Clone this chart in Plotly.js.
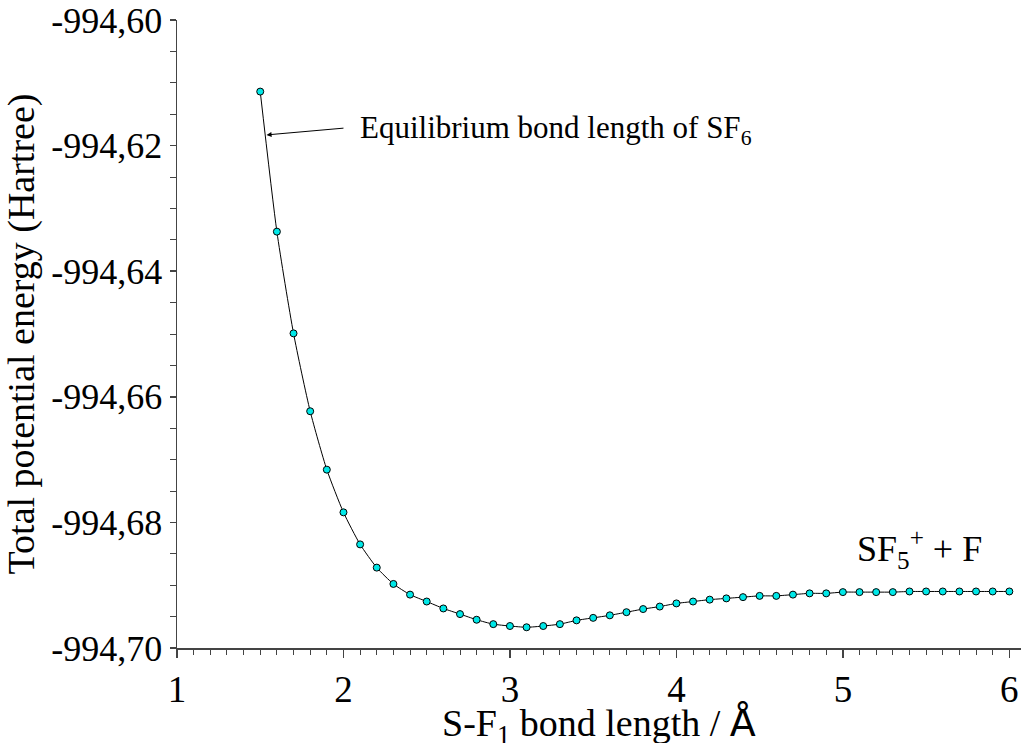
<!DOCTYPE html>
<html><head><meta charset="utf-8">
<script src="https://cdn.plot.ly/plotly-3.0.1.min.js"></script>
<style>html,body{margin:0;padding:0;background:#fff}#chart{width:1021px;height:743px}</style>
</head><body><div id="chart"></div>
<script>
const bondLength = [1.5,1.6,1.7,1.8,1.9,2.0,2.1,2.2,2.3,2.4,2.5,2.6,2.7,2.8,2.9,3.0,3.1,3.2,3.3,3.4,3.5,3.6,3.7,3.8,3.9,4.0,4.1,4.2,4.3,4.4,4.5,4.6,4.7,4.8,4.9,5.0,5.1,5.2,5.3,5.4,5.5,5.6,5.7,5.8,5.9,6.0];
const energy = [-994.6114,-994.6337,-994.6499,-994.6623,-994.6716,-994.6784,-994.6835,-994.6872,-994.6898,-994.6915,-994.6926,-994.6937,-994.6946,-994.6955,-994.6962,-994.6965,-994.6967,-994.6965,-994.6962,-994.6956,-994.6952,-994.6948,-994.6943,-994.6938,-994.6934,-994.6929,-994.6926,-994.6923,-994.6921,-994.6919,-994.6917,-994.6917,-994.6915,-994.6913,-994.6913,-994.6911,-994.6911,-994.6911,-994.6911,-994.6910,-994.6910,-994.6910,-994.6910,-994.6910,-994.6910,-994.6910];
const yTickVals = [-994.70,-994.68,-994.66,-994.64,-994.62,-994.60];
const yTickText = ['-994,70','-994,68','-994,66','-994,64','-994,62','-994,60'];
const xTickVals = [1,2,3,4,5,6];
const xTickText = ['1','2','3','4','5','6'];
const xTitle = 'S-F<sub>1</sub> bond length / <span style="font-family:DejaVu Sans">Å</span>';
const yTitle = 'Total potential energy (Hartree)';

const serif = 'Liberation Serif, Times New Roman, serif';
const axisCol = '#444';

const trace = {
  x: bondLength, y: energy, type: 'scatter', mode: 'lines+markers',
  line: {color: '#000', width: 1, shape: 'spline', smoothing: 0.6},
  marker: {color: '#00e8e8', size: 7, line: {color: '#000', width: 1}},
  hoverinfo: 'skip', showlegend: false
};

const layout = {
  width: 1021, height: 743,
  margin: {l: 177, r: 0, t: 20, b: 95},
  paper_bgcolor: '#fff', plot_bgcolor: '#fff',
  font: {family: serif, color: '#000'},
  xaxis: {
    range: [1, 6.07], showgrid: false, zeroline: false,
    showline: true, linecolor: axisCol, linewidth: 1.5,
    tickmode: 'array', tickvals: xTickVals, ticktext: xTickText,
    ticks: 'outside', ticklen: 8, tickcolor: axisCol, tickwidth: 1.5,
    minor: {dtick: 0.1, ticks: 'outside', ticklen: 5, tickcolor: axisCol, tickwidth: 1, showgrid: false},
    tickfont: {family: serif, size: 37, color: '#000'},
    title: {text: ''}
  },
  yaxis: {
    range: [-994.70, -994.60], showgrid: false, zeroline: false,
    showline: true, linecolor: axisCol, linewidth: 1.5,
    tickmode: 'array', tickvals: yTickVals, ticktext: yTickText,
    ticks: 'outside', ticklen: 6, tickcolor: axisCol, tickwidth: 1.5,
    minor: {dtick: 0.005, ticks: 'outside', ticklen: 6, tickcolor: axisCol, tickwidth: 1, showgrid: false},
    tickfont: {family: serif, size: 36, color: '#000'},
    title: {text: yTitle, font: {family: serif, size: 38, color: '#000'}, standoff: 10}
  },
  annotations: [
    {x: 0.5, y: 0, xref: 'paper', yref: 'paper', xanchor: 'center', yanchor: 'top', yshift: -51,
     showarrow: false, text: xTitle, font: {family: serif, size: 38, color: '#000'}},
    {x: 1.538, y: -994.6183, ax: 2.009, ay: -994.6172, axref: 'x', ayref: 'y', xref: 'x', yref: 'y',
     text: '', showarrow: true, arrowhead: 2, arrowsize: 1, arrowwidth: 1, arrowcolor: '#000'},
    {x: 2.087, y: -994.6175, xref: 'x', yref: 'y', xanchor: 'left', yanchor: 'middle', showarrow: false,
     text: 'Equilibrium bond length of SF<sub>6</sub>', font: {family: serif, size: 31, color: '#000'}},
    {x: 5.462, y: -994.6842, xref: 'x', yref: 'y', xanchor: 'center', yanchor: 'middle', showarrow: false,
     text: 'SF<sub>5</sub><sup>+</sup> + F', font: {family: serif, size: 36, color: '#000'}}
  ]
};

Plotly.newPlot('chart', [trace], layout, {staticPlot: true, displayModeBar: false});
</script>
</body></html>
